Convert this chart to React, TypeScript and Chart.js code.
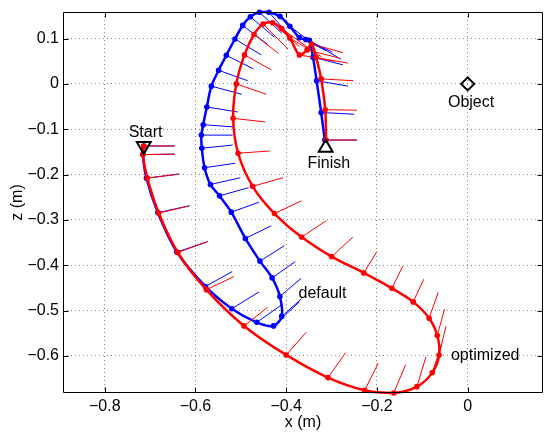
import React, { useEffect, useRef } from 'react';
import { Chart, registerables } from 'chart.js';

Chart.register(...registerables);

// ---- data (metres) ----
const xTicks = [-0.8, -0.6, -0.4, -0.2, 0];
const zTicks = [0.1, 0, -0.1, -0.2, -0.3, -0.4, -0.5, -0.6];

// optimized trajectory (red)
const optX = [-0.714, -0.716, -0.706, -0.681, -0.639, -0.576, -0.493, -0.400, -0.308, -0.227, -0.163, -0.112, -0.078, -0.063, -0.067, -0.085, -0.120, -0.167, -0.229, -0.300, -0.366, -0.426, -0.474, -0.506, -0.517, -0.510, -0.492, -0.471, -0.451, -0.430, -0.410, -0.392, -0.371, -0.354, -0.344, -0.334, -0.323, -0.314, -0.312];
const optZ = [-0.137, -0.156, -0.208, -0.285, -0.372, -0.454, -0.534, -0.598, -0.648, -0.676, -0.682, -0.668, -0.637, -0.598, -0.555, -0.517, -0.481, -0.451, -0.417, -0.381, -0.338, -0.286, -0.226, -0.153, -0.076, 0.000, 0.064, 0.109, 0.132, 0.135, 0.122, 0.101, 0.064, 0.075, 0.088, 0.058, 0.011, -0.057, -0.124];
// orientation stick tips for optimized
const optTipX = [-0.646, -0.646, -0.637, -0.613, -0.573, -0.515, -0.441, -0.356, -0.269, -0.197, -0.137, -0.092, -0.058, -0.048, -0.051, -0.065, -0.097, -0.143, -0.200, -0.253, -0.312, -0.366, -0.407, -0.436, -0.446, -0.444, -0.433, -0.417, -0.396, -0.371, -0.345, -0.322, -0.294, -0.283, -0.275, -0.264, -0.252, -0.244, -0.244];
const optTipZ = [-0.137, -0.155, -0.199, -0.269, -0.348, -0.425, -0.493, -0.548, -0.593, -0.616, -0.620, -0.602, -0.576, -0.535, -0.497, -0.460, -0.431, -0.402, -0.370, -0.338, -0.302, -0.258, -0.207, -0.148, -0.084, -0.023, 0.031, 0.067, 0.077, 0.082, 0.075, 0.060, 0.050, 0.057, 0.069, 0.046, 0.007, -0.058, -0.124];

// default trajectory (blue)
const defX = [-0.714, -0.716, -0.708, -0.683, -0.641, -0.578, -0.520, -0.465, -0.428, -0.410, -0.414, -0.431, -0.458, -0.490, -0.521, -0.547, -0.567, -0.580, -0.586, -0.587, -0.583, -0.575, -0.565, -0.549, -0.532, -0.513, -0.496, -0.479, -0.459, -0.438, -0.414, -0.392, -0.371, -0.357, -0.349, -0.341, -0.333, -0.323, -0.315];
const defZ = [-0.137, -0.156, -0.208, -0.284, -0.371, -0.447, -0.496, -0.526, -0.534, -0.513, -0.469, -0.428, -0.391, -0.341, -0.283, -0.247, -0.222, -0.185, -0.142, -0.113, -0.090, -0.051, -0.005, 0.030, 0.063, 0.099, 0.129, 0.148, 0.158, 0.158, 0.149, 0.127, 0.102, 0.098, 0.096, 0.059, 0.007, -0.063, -0.124];
const defTipX = [-0.646, -0.646, -0.637, -0.613, -0.573, -0.519, -0.460, -0.408, -0.371, -0.366, -0.367, -0.380, -0.404, -0.433, -0.460, -0.483, -0.501, -0.512, -0.518, -0.518, -0.515, -0.507, -0.498, -0.485, -0.472, -0.455, -0.441, -0.426, -0.410, -0.395, -0.371, -0.338, -0.313, -0.298, -0.279, -0.275, -0.264, -0.250, -0.244];
const defTipZ = [-0.137, -0.155, -0.199, -0.269, -0.348, -0.414, -0.459, -0.486, -0.481, -0.474, -0.429, -0.392, -0.357, -0.313, -0.261, -0.229, -0.207, -0.175, -0.135, -0.113, -0.095, -0.062, -0.023, 0.007, 0.033, 0.064, 0.087, 0.103, 0.112, 0.109, 0.101, 0.087, 0.074, 0.070, 0.054, 0.042, -0.005, -0.067, -0.124];

// markers
const startPt = { x: -0.714, z: -0.137 };
const finishPt = { x: -0.313, z: -0.141 };
const objectPt = { x: 0, z: 0 };

// annotation texts [text, x, z]
const annotations: [string, number, number][] = [
  ['Start', -0.710, -0.118],
  ['Finish', -0.306, -0.186],
  ['Object', 0.0075, -0.052],
  ['default', -0.320, -0.473],
  ['optimized', 0.0386, -0.610],
];

const X_MIN = -0.892, X_MAX = 0.166;
const Z_MIN = -0.682, Z_MAX = 0.1586;

const FONT = 'Helvetica, "Liberation Sans", Arial, sans-serif';

function pts(xs: number[], zs: number[]) {
  return xs.map((x, i) => ({ x, y: zs[i] }));
}
function sticks(xs: number[], zs: number[], tx: number[], tz: number[]) {
  const out: { x: number | null; y: number | null }[] = [];
  xs.forEach((x, i) => {
    out.push({ x, y: zs[i] }, { x: tx[i], y: tz[i] }, { x: null, y: null });
  });
  return out;
}
function fmt(v: number) {
  if (Math.abs(v) < 1e-9) return '0';
  return (v < 0 ? '\u2212' : '') + Math.abs(v).toFixed(1);
}

const overlay = {
  id: 'overlay',
  afterDatasetsDraw(chart: any) {
    const { ctx, chartArea: a, scales } = chart;
    const xs = scales.x, ys = scales.y;
    ctx.save();
    ctx.strokeStyle = '#000';
    ctx.lineWidth = 1;
    const L = Math.round(a.left) + 0.5, R = Math.round(a.right) - 0.5;
    const T = Math.round(a.top) + 0.5, B = Math.round(a.bottom) - 0.5;
    ctx.beginPath();
    ctx.rect(L, T, R - L, B - T);
    const tl = 5;
    xTicks.forEach((v) => {
      const p = Math.round(xs.getPixelForValue(v)) + 0.5;
      ctx.moveTo(p, B); ctx.lineTo(p, B - tl);
      ctx.moveTo(p, T); ctx.lineTo(p, T + tl);
    });
    zTicks.forEach((v) => {
      const p = Math.round(ys.getPixelForValue(v)) + 0.5;
      ctx.moveTo(L, p); ctx.lineTo(L + tl, p);
      ctx.moveTo(R, p); ctx.lineTo(R - tl, p);
    });
    ctx.stroke();
    ctx.fillStyle = '#000';
    ctx.font = '16px ' + FONT;
    ctx.textAlign = 'center';
    ctx.textBaseline = 'alphabetic';
    annotations.forEach(([t, x, z]) => {
      ctx.fillText(t, xs.getPixelForValue(x), ys.getPixelForValue(z));
    });
    ctx.restore();
  },
};

export default function App() {
  const ref = useRef<HTMLCanvasElement | null>(null);
  useEffect(() => {
    if (!ref.current) return;
    const RED = '#ff0000', BLUE = '#0000ff';
    const chart = new Chart(ref.current, {
      type: 'scatter',
      data: {
        datasets: [
          {
            label: 'markers-start',
            data: [{ x: startPt.x, y: startPt.z }],
            pointStyle: 'triangle', rotation: 180, pointRadius: 8,
            borderColor: '#000', backgroundColor: 'rgba(0,0,0,0)', borderWidth: 2,
            order: 0, clip: false,
          } as any,
          {
            label: 'markers-finish',
            data: [{ x: finishPt.x, y: finishPt.z }],
            pointStyle: 'triangle', pointRadius: 8,
            borderColor: '#000', backgroundColor: 'rgba(0,0,0,0)', borderWidth: 2,
            order: 0, clip: false,
          } as any,
          {
            label: 'object',
            data: [{ x: objectPt.x, y: objectPt.z }],
            pointStyle: 'rectRot', pointRadius: 6.5,
            borderColor: '#000', backgroundColor: 'rgba(0,0,0,0)', borderWidth: 2,
            order: 0, clip: false,
          } as any,
          {
            label: 'optimized',
            data: pts(optX, optZ),
            showLine: true, tension: 0.3, borderColor: RED, backgroundColor: RED, borderWidth: 2.5,
            pointRadius: 2.8, pointBorderWidth: 0, pointBackgroundColor: RED,
            order: 1, clip: false,
          } as any,
          {
            label: 'optimized orientation',
            data: sticks(optX, optZ, optTipX, optTipZ),
            showLine: true, spanGaps: false, borderColor: RED, borderWidth: 1,
            pointRadius: 0, order: 2, clip: false,
          } as any,
          {
            label: 'default',
            data: pts(defX, defZ),
            showLine: true, tension: 0.3, borderColor: BLUE, backgroundColor: BLUE, borderWidth: 2.5,
            pointRadius: 2.8, pointBorderWidth: 0, pointBackgroundColor: BLUE,
            order: 3, clip: false,
          } as any,
          {
            label: 'default orientation',
            data: sticks(defX, defZ, defTipX, defTipZ),
            showLine: true, spanGaps: false, borderColor: BLUE, borderWidth: 1,
            pointRadius: 0, order: 4, clip: false,
          } as any,
        ],
      },
      options: {
        responsive: false,
        animation: false,
        events: [],
        layout: { autoPadding: false, padding: { top: 12, right: 2, left: 0, bottom: 0 } },
        plugins: { legend: { display: false }, tooltip: { enabled: false } },
        scales: {
          x: {
            type: 'linear', min: X_MIN, max: X_MAX,
            afterBuildTicks: (s: any) => { s.ticks = xTicks.map((value) => ({ value })); },
            afterFit: (s: any) => { s.height = 39; s.paddingLeft = 0; s.paddingRight = 0; },
            ticks: { callback: (v: any) => fmt(Number(v)), color: '#000', font: { family: FONT, size: 16 }, padding: 4, maxRotation: 0 },
            grid: { color: '#8a8a8a', lineWidth: 1, drawTicks: false },
            border: { display: false, dash: [1, 3] },
            title: { display: true, text: 'x (m)', color: '#000', font: { family: FONT, size: 16 }, padding: { top: 0, bottom: 0 } },
          },
          y: {
            type: 'linear', min: Z_MIN, max: Z_MAX,
            afterBuildTicks: (s: any) => { s.ticks = zTicks.map((value) => ({ value })); },
            afterFit: (s: any) => { s.width = 63; s.paddingTop = 0; s.paddingBottom = 0; },
            ticks: { callback: (v: any) => fmt(Number(v)), color: '#000', font: { family: FONT, size: 16 }, padding: 4 },
            grid: { color: '#8a8a8a', lineWidth: 1, drawTicks: false },
            border: { display: false, dash: [1, 3] },
            title: { display: true, text: 'z (m)', color: '#000', font: { family: FONT, size: 16 }, padding: { top: 8, bottom: 0 } },
          },
        },
      },
      plugins: [overlay],
    } as any);
    return () => chart.destroy();
  }, []);
  return (
    <div style={{ position: 'fixed', left: 0, top: 0, width: 545, height: 432, background: '#fff' }}>
      <canvas ref={ref} width={545} height={432} style={{ display: 'block' }} />
    </div>
  );
}
